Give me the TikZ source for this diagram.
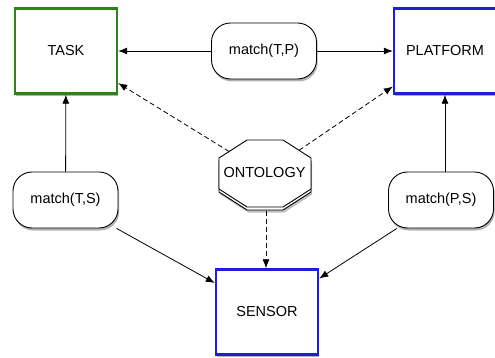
\documentclass[tikz,border=0pt]{standalone}
\usepackage{fontspec}
\setmainfont{Liberation Sans}
\usetikzlibrary{arrows.meta,shadows}
\definecolor{boxgreen}{RGB}{45,130,25}
\definecolor{boxblue}{RGB}{30,30,215}
\begin{document}
\begin{tikzpicture}[x=1pt,y=-1pt,
  font=\fontsize{14.5}{17}\selectfont,
  shadowed/.style={drop shadow={shadow xshift=1.2pt,shadow yshift=-2.5pt,opacity=0.3,fill=black}},
  entity/.style={draw, line width=2.4pt, fill=white, minimum width=102pt, minimum height=85pt, inner sep=0pt, shadowed},
  matcher/.style={draw, line width=0.9pt, fill=white, rounded corners=19pt, minimum width=105pt, minimum height=56pt, inner sep=0pt, shadowed},
  octline/.style={draw=black, line width=0.9pt, fill=white},
  link/.style={line width=0.8pt, -{Latex[length=9pt,width=7pt]}},
  dlink/.style={link, dash pattern=on 5pt off 3pt}]
\useasboundingbox (0,0) rectangle (495,358);
\node[entity, draw=boxgreen] (task) at (66,51) {TASK};
\node[entity, draw=boxblue] (platform) at (445,51) {PLATFORM};
\node[entity, draw=boxblue] (sensor) at (267,312) {SENSOR};
\node[matcher] (tp) at (264,51) {match(T,P)};
\node[matcher] (ts) at (65.5,200) {match(T,S)};
\node[matcher] (ps) at (441,200) {match(P,S)};
% ontology octagon with stacked copy
\def\octa{(247,140) -- (283,140) -- (311,158) -- (311,189) -- (283,207) -- (247,207) -- (219,189) -- (219,158) -- cycle}
\fill[black, opacity=0.25, shift={(1.2,5.5)}] \octa;
\path[octline, shift={(0,3)}] \octa;
\path[octline] \octa;
\node[inner sep=0pt] (ont) at (264.5,173) {ONTOLOGY};
\coordinate (oT) at (229.1,151.5);
\coordinate (oP) at (299.1,150.3);
\coordinate (oS) at (266,211);
\draw[link] (tp) -- (task);
\draw[link] (tp) -- (platform);
\draw[link] (ts) -- (task);
\draw[link] (ps.north -| platform) -- (platform);
\draw[link] (ts) -- (sensor);
\draw[link] (ps) -- (sensor);
\draw[dlink] (oT) -- (task);
\draw[dlink] (oP) -- (platform);
\draw[dlink] (oS) -- (oS |- sensor.north);
\end{tikzpicture}
\end{document}
